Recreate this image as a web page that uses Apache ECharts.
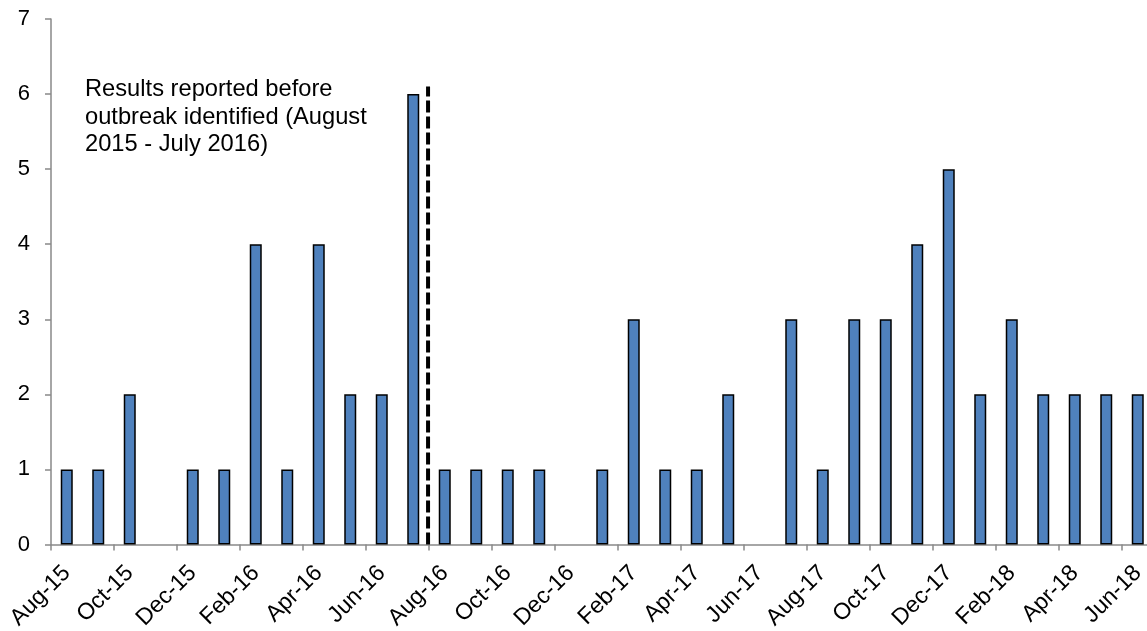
<!DOCTYPE html>
<html>
<head>
<meta charset="utf-8">
<script src="https://cdn.jsdelivr.net/npm/echarts@6/dist/echarts.min.js"></script>
<style>
  html, body { margin: 0; padding: 0; background: #ffffff; }
  #chart { width: 1147px; height: 631px; }
</style>
</head>
<body>
<div id="chart"></div>
<script>
// Monthly counts of reported results, Aug 2015 - Jun 2018
const months = [
  'Aug-15', 'Sep-15', 'Oct-15', 'Nov-15', 'Dec-15', 'Jan-16', 'Feb-16', 'Mar-16',
  'Apr-16', 'May-16', 'Jun-16', 'Jul-16', 'Aug-16', 'Sep-16', 'Oct-16', 'Nov-16',
  'Dec-16', 'Jan-17', 'Feb-17', 'Mar-17', 'Apr-17', 'May-17', 'Jun-17', 'Jul-17',
  'Aug-17', 'Sep-17', 'Oct-17', 'Nov-17', 'Dec-17', 'Jan-18', 'Feb-18', 'Mar-18',
  'Apr-18', 'May-18', 'Jun-18'
];
const counts = [
  1, 1, 2, 0, 1, 1, 4, 1, 4, 2, 2, 6,
  1, 1, 1, 1, 0, 1, 3, 1, 1, 2, 0, 3,
  1, 3, 3, 4, 5, 2, 3, 2, 2, 2, 2
];
// Boundary between Jul-16 and Aug-16 (position along the month axis) and its height
const cutoffPos = [11.97, 11.97];
const cutoffHeight = [0, 6.1];
const yTicks = [0, 1, 2, 3, 4, 5, 6, 7];
const noteText = 'Results reported before\noutbreak identified (August\n2015 - July 2016)';

const FONT = 'Liberation Sans';
const AXIS_GRAY = '#898989';

const chart = echarts.init(document.getElementById('chart'), null, { renderer: 'canvas' });

chart.setOption({
  animation: false,
  backgroundColor: '#ffffff',
  grid: { left: 51, right: -6.5, top: 19, bottom: 86.5, containLabel: false, outerBoundsMode: 'none' },
  xAxis: [
    {
      type: 'category',
      data: months,
      boundaryGap: true,
      axisLine: { show: true, lineStyle: { color: AXIS_GRAY, width: 1.5 } },
      axisTick: { show: true, interval: 1, length: 6, inside: false, lineStyle: { color: AXIS_GRAY, width: 1.5 } },
      axisLabel: {
        interval: 1,
        rotate: 45,
        margin: 25,
        color: '#000000',
        fontSize: 23,
        fontFamily: FONT
      },
      splitLine: { show: false }
    },
    {
      // position scale for the cutoff marker, spanning the same months
      type: 'value',
      min: 0,
      max: months.length,
      show: false
    }
  ],
  yAxis: {
    type: 'value',
    min: yTicks[0],
    max: yTicks[yTicks.length - 1],
    interval: 1,
    axisLine: { show: true, lineStyle: { color: AXIS_GRAY, width: 1.5 } },
    axisTick: { show: true, length: 6, lineStyle: { color: AXIS_GRAY, width: 1.5 } },
    axisLabel: { margin: 21, color: '#000000', fontSize: 22, fontFamily: FONT },
    splitLine: { show: false }
  },
  series: [
    {
      type: 'bar',
      xAxisIndex: 0,
      yAxisIndex: 0,
      barWidth: 12,
      data: counts.map(v => ({
        value: v,
        itemStyle: v === 0 ? { borderWidth: 0 } : {}
      })),
      itemStyle: { color: '#4F81BD', borderColor: '#000000', borderWidth: 1.5 },
      silent: true
    },
    {
      type: 'line',
      xAxisIndex: 1,
      yAxisIndex: 0,
      data: cutoffPos.map((x, i) => [x, cutoffHeight[i]]),
      symbol: 'none',
      lineStyle: { color: '#000000', width: 4, type: [12, 4] },
      silent: true,
      z: 5
    }
  ],
  graphic: [
    {
      type: 'text',
      left: 85,
      top: 76,
      style: {
        text: noteText,
        font: '23.7px ' + FONT,
        lineHeight: 27.5,
        fill: '#000000'
      }
    }
  ]
});
</script>
</body>
</html>
